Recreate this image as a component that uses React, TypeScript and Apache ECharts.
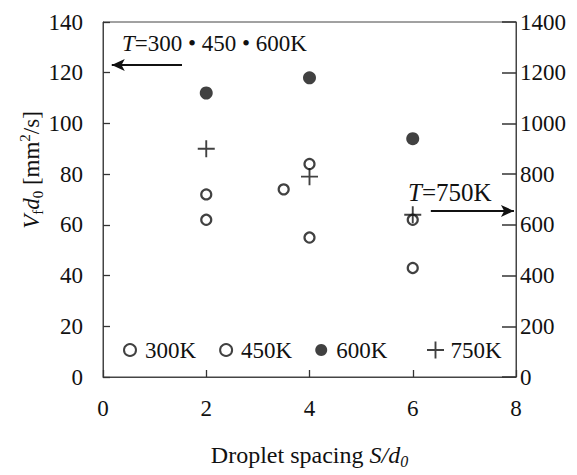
import React, { useEffect, useRef } from "react";
import * as echarts from "echarts";

const spacing300 = [2, 4, 6];
const values300 = [62, 55, 43];
const spacing450 = [2, 3.5, 4, 6];
const values450 = [72, 74, 84, 62];
const spacing600 = [2, 4, 6];
const values600 = [112, 118, 94];
const spacing750 = [2, 4, 6];
const values750 = [90, 79, 64];

const leftArrow = { fromX: 1.53, toX: 0.17, y: 123 };
const rightArrow = { fromX: 6.35, toX: 7.96, y: 655 };

const FONT = "'Liberation Serif', 'DejaVu Serif', serif";
const INK = "#111";
const PLUS =
  "path://M-1,-9 L1,-9 L1,-1 L9,-1 L9,1 L1,1 L1,9 L-1,9 L-1,1 L-9,1 L-9,-1 L-1,-1 Z";

const zip = (xs: number[], ys: number[]) => xs.map((x, i) => [x, ys[i]]);

export default function App() {
  const ref = useRef<HTMLDivElement>(null);
  useEffect(() => {
    if (!ref.current) return;
    const chart = echarts.init(ref.current, null, { renderer: "svg" });
    const openStyle = { color: "transparent", borderColor: INK, borderWidth: 2.2 };
    const arrowLine = {
      silent: true,
      symbol: ["none", "arrow"],
      symbolSize: [9, 13],
      label: { show: false },
      lineStyle: { color: INK, width: 2, type: "solid" },
      emphasis: { disabled: true },
    };
    const labelStyle = { fontFamily: FONT, fontSize: 23, color: INK };
    chart.setOption({
      animation: false,
      backgroundColor: "#fff",
      textStyle: { fontFamily: FONT, color: INK },
      grid: {
        left: 103,
        right: 61,
        top: 22,
        bottom: 98,
        outerBoundsMode: "none",
        containLabel: false,
        show: true,
        borderColor: "#444",
        borderWidth: 1,
        backgroundColor: "transparent",
      },
      xAxis: {
        type: "value",
        min: 0,
        max: 8,
        interval: 2,
        name: "Droplet spacing {i|S/d}{sub|0}",
        nameLocation: "middle",
        nameGap: 64,
        nameTextStyle: {
          fontFamily: FONT,
          fontSize: 24,
          color: INK,
          lineHeight: 28,
          rich: {
            i: { fontFamily: FONT, fontSize: 24, fontStyle: "italic", color: INK, lineHeight: 28 },
            sub: { fontFamily: FONT, fontSize: 16, fontStyle: "italic", color: INK, verticalAlign: "bottom", lineHeight: 15 },
          },
        },
        axisLine: { show: true, lineStyle: { color: "#444", width: 1 } },
        axisTick: { show: true, inside: true, length: 7, lineStyle: { color: "#333", width: 1.3 } },
        axisLabel: { ...labelStyle, margin: 20 },
        splitLine: { show: false },
      },
      yAxis: [
        {
          type: "value",
          min: 0,
          max: 140,
          interval: 20,
          position: "left",
          axisLine: { show: true, lineStyle: { color: "#444", width: 1 } },
          axisTick: { show: true, inside: true, length: 7, lineStyle: { color: "#333", width: 1.3 } },
          axisLabel: { ...labelStyle, margin: 20, formatter: (v: number) => String(v) },
          splitLine: { show: false },
        },
        {
          type: "value",
          min: 0,
          max: 1400,
          interval: 200,
          position: "right",
          axisLine: { show: true, lineStyle: { color: "#444", width: 1 } },
          axisTick: { show: true, inside: true, length: 14, lineStyle: { color: "#333", width: 1.5 } },
          axisLabel: { ...labelStyle, margin: 4, formatter: (v: number) => String(v) },
          splitLine: { show: false },
        },
      ],
      legend: [
        {
          data: ["300K", "450K", "600K"],
          left: 118,
          top: 333,
          orient: "horizontal",
          itemWidth: 20,
          itemHeight: 12,
          itemGap: 23,
          textStyle: { fontFamily: FONT, fontSize: 23, color: INK, lineHeight: 24 },
          selectedMode: false,
        },
        {
          data: ["750K"],
          left: 422,
          top: 333,
          orient: "horizontal",
          itemWidth: 20,
          itemHeight: 17,
          textStyle: { fontFamily: FONT, fontSize: 23, color: INK, lineHeight: 24 },
          selectedMode: false,
        },
      ],
      series: [
        {
          name: "300K",
          type: "scatter",
          symbol: "circle",
          symbolSize: 10,
          itemStyle: openStyle,
          data: zip(spacing300, values300),
          z: 2,
        },
        {
          name: "450K",
          type: "scatter",
          symbol: "circle",
          symbolSize: 10,
          itemStyle: openStyle,
          data: zip(spacing450, values450),
          z: 2,
        },
        {
          name: "600K",
          type: "scatter",
          symbol: "circle",
          symbolSize: 13,
          itemStyle: { color: INK },
          data: zip(spacing600, values600),
          markLine: {
            ...arrowLine,
            data: [[{ coord: [leftArrow.fromX, leftArrow.y] }, { coord: [leftArrow.toX, leftArrow.y] }]],
          },
          z: 3,
        },
        {
          name: "750K",
          type: "scatter",
          symbol: PLUS,
          symbolSize: 17,
          itemStyle: { color: INK },
          data: zip(spacing750, values750),
          z: 3,
        },
        {
          name: "T750",
          type: "scatter",
          yAxisIndex: 1,
          data: [],
          markLine: {
            ...arrowLine,
            data: [[{ coord: [rightArrow.fromX, rightArrow.y] }, { coord: [rightArrow.toX, rightArrow.y] }]],
          },
        },
      ],
      graphic: [
        {
          type: "text",
          x: 122,
          y: 43,
          silent: true,
          style: {
            text: "{i|T}=300 • 450 • 600K",
            fontFamily: FONT,
            fontSize: 23,
            fill: INK,
            verticalAlign: "middle",
            align: "left",
            rich: { i: { fontFamily: FONT, fontSize: 23, fontStyle: "italic", fill: INK } },
          },
        },
        {
          type: "text",
          x: 408,
          y: 192,
          silent: true,
          style: {
            text: "{i|T}=750K",
            fontFamily: FONT,
            fontSize: 25,
            fill: INK,
            verticalAlign: "middle",
            align: "left",
            rich: { i: { fontFamily: FONT, fontSize: 25, fontStyle: "italic", fill: INK } },
          },
        },
        {
          type: "text",
          x: 31,
          y: 170,
          rotation: Math.PI / 2,
          silent: true,
          style: {
            text: "{i|V}{sub|f}{i|d}{sub|0} [mm{sup|2}/s]",
            fontFamily: FONT,
            fontSize: 23,
            fill: INK,
            lineHeight: 28,
            verticalAlign: "middle",
            align: "center",
            rich: {
              i: { fontFamily: FONT, fontSize: 23, fontStyle: "italic", fill: INK, lineHeight: 28 },
              sub: { fontFamily: FONT, fontSize: 15, fill: INK, verticalAlign: "bottom", lineHeight: 15 },
              sup: { fontFamily: FONT, fontSize: 15, fill: INK, verticalAlign: "top", lineHeight: 15 },
            },
          },
        },
      ],
    });
    return () => chart.dispose();
  }, []);
  return (
    <div
      ref={ref}
      style={{ position: "fixed", left: 0, top: 0, width: 577, height: 475, background: "#fff" }}
    />
  );
}
